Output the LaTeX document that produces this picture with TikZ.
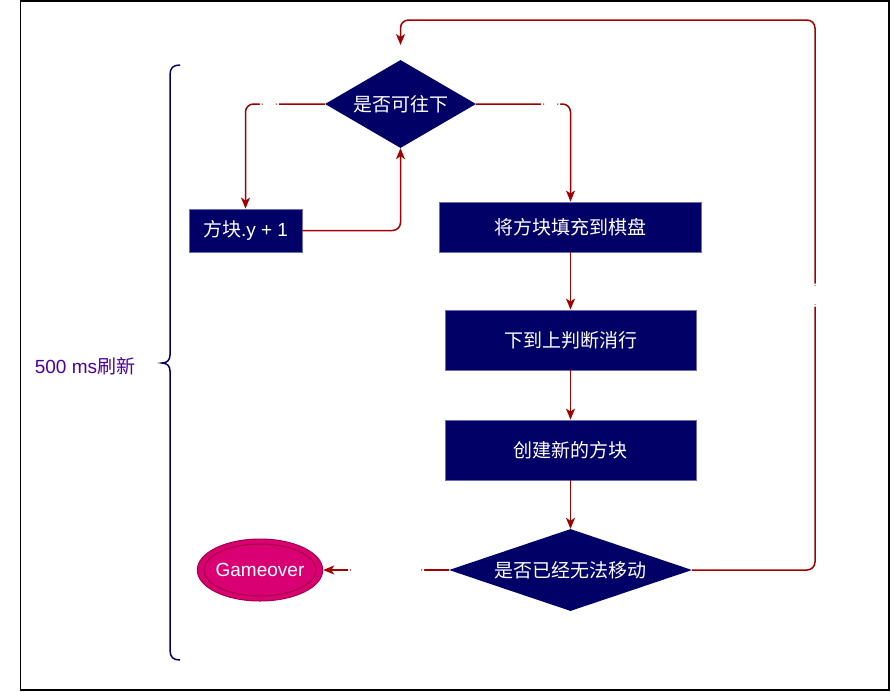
\documentclass[tikz,border=0pt]{standalone}
\usepackage{fontspec}
\setmainfont{Liberation Sans}
\newfontfamily\cjk{Noto Sans CJK SC}
\usetikzlibrary{shapes.geometric,arrows.meta}
\definecolor{navy}{HTML}{000066}
\definecolor{boxline}{HTML}{6C6CAE}
\definecolor{edge}{HTML}{A00000}
\definecolor{gm}{HTML}{D80073}
\definecolor{gmline}{HTML}{A50040}
\definecolor{lab}{HTML}{4C0099}
\tikzset{
  every node/.style={font=\fontsize{19}{22}\selectfont},
  procbox/.style={rectangle, fill=navy, draw=boxline, line width=0.8pt, text=white, inner sep=0pt},
  decision/.style={diamond, fill=navy, text=white, inner sep=0pt},
  conn/.style={draw=edge, line width=1.5pt, rounded corners=8pt, -{Stealth[length=11pt,width=9pt,inset=3pt]}},
  hgap/.style={fill=white, inner sep=0pt, minimum height=5pt},
  vgap/.style={fill=white, inner sep=0pt, minimum width=6pt, minimum height=23pt},
}
\begin{document}
\begin{tikzpicture}[x=1pt,y=-1pt]
\useasboundingbox (0,0) rectangle (891,691);
\draw[black, line width=1.5pt] (20.5,0.75) rectangle (889,690);

% nodes
\node[decision, aspect=1.716, minimum width=151pt, minimum height=88pt] (d1) at (400.5,104) {\cjk 是否可往下};
\node[procbox, minimum width=113pt, minimum height=43pt] (b1) at (245.5,230.5) {{\cjk 方块}.y + 1};
\node[procbox, minimum width=262pt, minimum height=50pt] (b2) at (570.5,227) {\cjk 将方块填充到棋盘};
\node[procbox, minimum width=251pt, minimum height=60pt] (b3) at (570.5,340) {\cjk 下到上判断消行};
\node[procbox, minimum width=251pt, minimum height=60pt] (b4) at (570.5,450) {\cjk 创建新的方块};
\node[decision, aspect=2.96, minimum width=243pt, minimum height=82pt] (d2) at (570.5,570) {\cjk 是否已经无法移动};
\node[ellipse, fill=gm, draw=gmline, line width=1pt, minimum width=122pt, minimum height=62pt, text=white, inner sep=0pt] (g) at (260,570) {Gameover};
\draw[gmline, line width=1pt] (g.center) ellipse [x radius=56pt, y radius=26pt];
\coordinate (top) at (400.5,45);

% connectors
\draw[conn] (d1.west) -- node[hgap, minimum width=19pt, pos=0.7] {} (b1.north |- d1.west) -- (b1.north);
\draw[conn] (b1.east) -| (d1.south);
\draw[conn] (d1.east) -- node[hgap, minimum width=19pt, pos=0.79] {} (b2.north |- d1.east) -- (b2.north);
\draw[conn] (b2.south) -- (b3.north);
\draw[conn] (b3.south) -- (b4.north);
\draw[conn] (b4.south) -- (d2.north);
\draw[conn] (d2.west) -- node[hgap, minimum width=76pt, pos=0.5] {} (g.east);
\draw[conn] (d2.east) -- (815,570) -- node[vgap, pos=0.5] {} (815,20) -- (top |- 0,20) -- (top);

% brace
\draw[navy, line width=1.5pt] (180,65) .. controls (173,65) and (170,68) .. (170,75) -- (170,355) .. controls (170,360) and (167,363) .. (162,363) .. controls (167,363) and (170,366) .. (170,371) -- (170,650) .. controls (170,657) and (173,660) .. (180,660);
\node[text=lab] (lbl) at (85,366) {500 ms{\cjk 刷新}};
\end{tikzpicture}
\end{document}
